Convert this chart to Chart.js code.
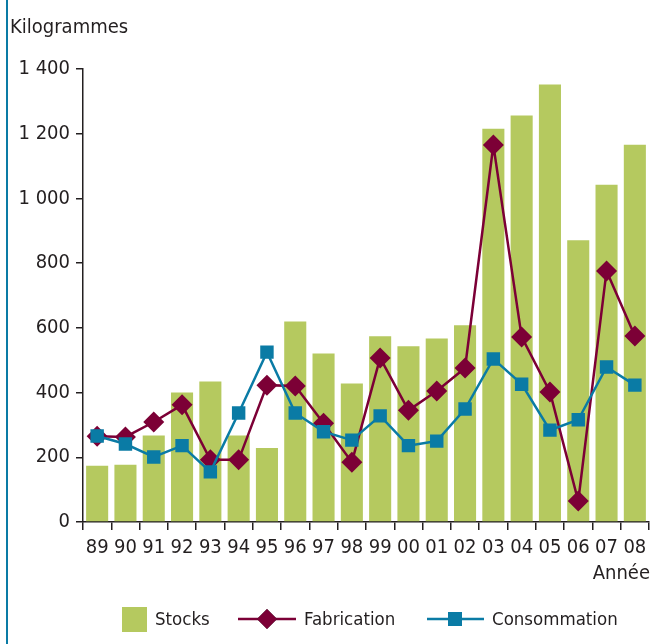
<!DOCTYPE html>
<html>
<head>
<meta charset="utf-8">
<script src="https://cdn.jsdelivr.net/npm/chart.js@4.4.1/dist/chart.umd.min.js"></script>
<style>
  html, body { margin: 0; padding: 0; background: #fff; }
  #wrap { width: 665px; height: 644px; position: relative; }
</style>
</head>
<body>
<div id="wrap"><canvas id="stockChart" width="665" height="644"></canvas></div>
<script>
// années (deux chiffres) et séries en kilogrammes
var annees = ["89", "90", "91", "92", "93", "94", "95", "96", "97", "98",
              "99", "00", "01", "02", "03", "04", "05", "06", "07", "08"];
var stocks = [174, 177, 267, 400, 434, 267, 229, 620, 521, 428,
              574, 543, 567, 608, 1215, 1256, 1352, 871, 1042, 1166];
var fabrication = [265, 263, 309, 362, 192, 192, 423, 420, 305, 185,
                   507, 345, 405, 476, 1165, 572, 402, 65, 776, 575];
var consommation = [266, 241, 201, 236, 155, 337, 525, 337, 279, 253,
                    328, 236, 250, 349, 504, 426, 284, 316, 479, 423];
var yTicks = [0, 200, 400, 600, 800, 1000, 1200, 1400];

var VERT = "#b5c95f", BORDEAUX = "#7c0036", BLEU = "#0a7ba5", TEXTE = "#231f20";
var FONT = '"Liberation Sans Narrow", "DejaVu Sans Condensed", "Liberation Sans", sans-serif';

function milliers(v) {
  return String(v).replace(/\B(?=(\d{3})+(?!\d))/g, " ");
}

// titre d'axe, légende et filet bleu à gauche
var decor = {
  id: "decor",
  afterDraw: function (chart) {
    var ctx = chart.ctx;
    ctx.save();
    ctx.strokeStyle = BLEU;
    ctx.lineWidth = 2;
    ctx.beginPath();
    ctx.moveTo(7, 0);
    ctx.lineTo(7, chart.height);
    ctx.stroke();

    ctx.fillStyle = TEXTE;
    ctx.font = "20px " + FONT;
    ctx.textBaseline = "middle";
    ctx.textAlign = "left";
    ctx.fillText("Kilogrammes", 10, 28);
    ctx.textAlign = "right";
    ctx.fillText("Ann\u00e9e", 650, 574);

    var y = 619;
    var ds = chart.data.datasets;
    ctx.font = "18.5px " + FONT;
    ctx.textAlign = "left";
    // Stocks
    ctx.fillStyle = ds[2].backgroundColor;
    ctx.fillRect(122, y - 12, 25, 25);
    ctx.fillStyle = TEXTE;
    ctx.fillText(ds[2].label, 155, y + 1);
    // Fabrication
    ctx.strokeStyle = ds[1].borderColor;
    ctx.lineWidth = 2.5;
    ctx.beginPath(); ctx.moveTo(238, y); ctx.lineTo(296, y); ctx.stroke();
    Chart.helpers.drawPoint(ctx, { pointStyle: "rectRot", radius: 10, borderWidth: 0 }, 267, y);
    ctx.fillStyle = ds[1].borderColor;
    ctx.fill();
    ctx.fillStyle = TEXTE;
    ctx.fillText(ds[1].label, 304, y + 1);
    // Consommation
    ctx.strokeStyle = ds[0].borderColor;
    ctx.beginPath(); ctx.moveTo(427, y); ctx.lineTo(484, y); ctx.stroke();
    ctx.fillStyle = ds[0].borderColor;
    ctx.fillRect(455 - 7, y - 7, 14, 14);
    ctx.fillStyle = TEXTE;
    ctx.fillText(ds[0].label, 492, y + 1);
    ctx.restore();
  }
};

new Chart("stockChart", {
  data: {
    labels: annees,
    datasets: [{
      type: "line",
      label: "Consommation",
      data: consommation,
      borderColor: BLEU,
      backgroundColor: BLEU,
      borderWidth: 2.5,
      pointStyle: "rect",
      pointRadius: 9.5,
      pointBorderWidth: 0,
      tension: 0,
      order: 0
    }, {
      type: "line",
      label: "Fabrication",
      data: fabrication,
      borderColor: BORDEAUX,
      backgroundColor: BORDEAUX,
      borderWidth: 2.5,
      pointStyle: "rectRot",
      pointRadius: 10.5,
      pointBorderWidth: 0,
      tension: 0,
      order: 1
    }, {
      type: "bar",
      label: "Stocks",
      data: stocks,
      backgroundColor: VERT,
      borderWidth: 0,
      categoryPercentage: 1,
      barPercentage: 0.78,
      order: 2
    }]
  },
  options: {
    responsive: false,
    animation: false,
    layout: { padding: { left: 0, right: 16, top: 69, bottom: 82 } },
    plugins: { legend: { display: false }, tooltip: { enabled: false } },
    scales: {
      x: {
        offset: true,
        grid: { drawOnChartArea: false, drawTicks: true, tickLength: 8, offset: true, color: TEXTE, lineWidth: 1.5 },
        border: { display: true, color: TEXTE, width: 1.5 },
        ticks: { color: TEXTE, font: { family: FONT, size: 20 }, padding: 6, maxRotation: 0, autoSkip: false },
        afterFit: function (s) { s.height = 40; }
      },
      y: {
        min: 0,
        max: 1400,
        afterBuildTicks: function (s) { s.ticks = yTicks.map(function (v) { return { value: v }; }); },
        grid: { drawOnChartArea: false, drawTicks: true, tickLength: 7, color: TEXTE, lineWidth: 1.5 },
        border: { display: true, color: TEXTE, width: 1.5 },
        ticks: { color: TEXTE, font: { family: FONT, size: 20 }, padding: 6, callback: function (v) { return milliers(v); } },
        afterFit: function (s) { s.width = 83; }
      }
    }
  },
  plugins: [decor]
});
</script>
</body>
</html>
